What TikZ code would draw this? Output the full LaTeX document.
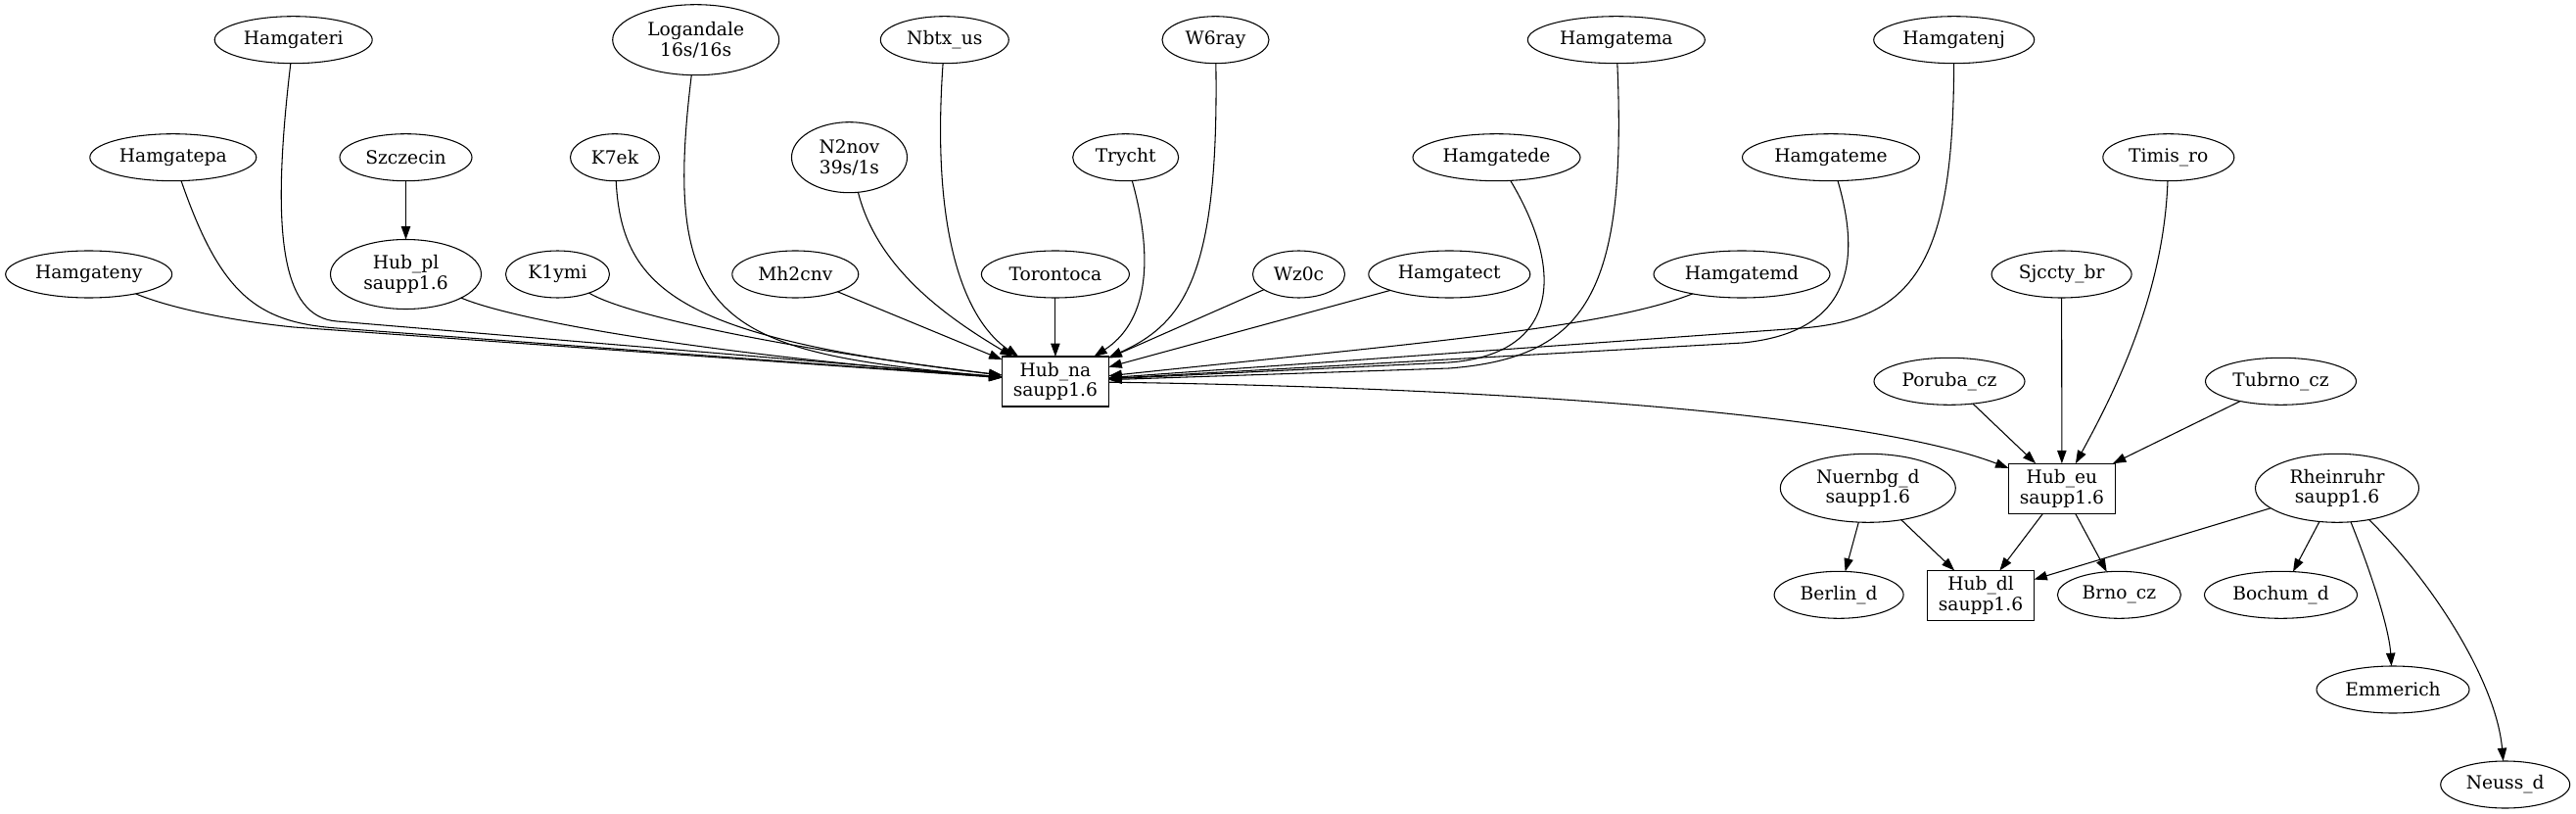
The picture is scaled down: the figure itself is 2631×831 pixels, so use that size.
\documentclass[tikz,border=0pt]{standalone}
\usepackage{fontspec}
\setmainfont{DejaVu Serif}
\usetikzlibrary{shapes.geometric,arrows.meta}
\begin{document}
\begin{tikzpicture}[x=0.75pt,y=-0.75pt, line width=0.8pt,
  every node/.style={font=\fontsize{14}{15.5}\selectfont, align=center},
  ell/.style={draw, ellipse, inner sep=0pt, outer sep=0pt, minimum height=36pt, minimum width=#1},
  hub/.style={draw, rectangle, inner sep=0pt, outer sep=0pt, minimum width=81.75pt, minimum height=38.25pt},
  tall/.style={minimum height=#1},
  edge/.style={draw, -{Triangle[length=10pt,width=7pt]}}]
\useasboundingbox (0,0) rectangle (2631,831);
% row 1
\node[ell=120.75pt] (hamgateri) at (299.7,40.7) {Hamgateri};
\node[ell=127.5pt, tall=54pt] (logandale) at (710.7,40.7) {Logandale\\16s/16s};
\node[ell=98.25pt] (nbtxus) at (964.8,40.7) {Nbtx\_us};
\node[ell=81.75pt] (w6ray) at (1241.5,40.7) {W6ray};
\node[ell=135.75pt] (hamgatema) at (1650.8,40.7) {Hamgatema};
\node[ell=123pt] (hamgatenj) at (1995.7,40.7) {Hamgatenj};
% row 2
\node[ell=127.5pt] (hamgatepa) at (176.8,160.7) {Hamgatepa};
\node[ell=101.25pt] (szczecin) at (414.5,160.7) {Szczecin};
\node[ell=68.25pt] (k7ek) at (628,160.7) {K7ek};
\node[ell=88.5pt, tall=54pt] (n2nov) at (867.5,160.7) {N2nov\\39s/1s};
\node[ell=81pt] (trycht) at (1149.7,160.7) {Trycht};
\node[ell=128.25pt] (hamgatede) at (1528.5,160.7) {Hamgatede};
\node[ell=135.75pt] (hamgateme) at (1870,160.7) {Hamgateme};
\node[ell=100.5pt] (timisro) at (2214.8,160.7) {Timis\_ro};
% row 3
\node[ell=127.5pt] (hamgateny) at (90.7,280) {Hamgateny};
\node[ell=115.5pt, tall=53.25pt] (hubpl) at (414.5,280) {Hub\_pl\\saupp1.6};
\node[ell=79.5pt] (k1ymi) at (569.5,280) {K1ymi};
\node[ell=96.75pt] (mh2cnv) at (812.3,280) {Mh2cnv};
\node[ell=113.25pt] (torontoca) at (1077.9,280) {Torontoca};
\node[ell=70.5pt] (wz0c) at (1326.5,280) {Wz0c};
\node[ell=123.75pt] (hamgatect) at (1480.3,280) {Hamgatect};
\node[ell=135pt] (hamgatemd) at (1779,280) {Hamgatemd};
\node[ell=107.25pt] (sjcctybr) at (2105.6,280) {Sjccty\_br};
% hubs and lower part
\node[hub] (hubna) at (1077.9,389.5) {Hub\_na\\saupp1.6};
\node[ell=115.5pt] (porubacz) at (1991,389.3) {Poruba\_cz};
\node[ell=115.5pt] (tubrnocz) at (2329.5,389.3) {Tubrno\_cz};
\node[hub] (hubeu) at (2105.9,498.7) {Hub\_eu\\saupp1.6};
\node[ell=134.25pt, tall=52.5pt] (nuernbgd) at (1907.8,498.3) {Nuernbg\_d\\saupp1.6};
\node[ell=125.25pt, tall=52.5pt] (rheinruhr) at (2387,498.3) {Rheinruhr\\saupp1.6};
\node[ell=99pt] (berlind) at (1878.1,607.3) {Berlin\_d};
\node[hub] (hubdl) at (2023,608) {Hub\_dl\\saupp1.6};
\node[ell=94.5pt] (brnocz) at (2164.4,607.3) {Brno\_cz};
\node[ell=117pt] (bochumd) at (2329.5,607.3) {Bochum\_d};
\node[ell=117pt] (emmerich) at (2444,704) {Emmerich};
\node[ell=99pt] (neussd) at (2558.7,801) {Neuss\_d};
% edges into Hub_na
\draw[edge] (hamgateny) .. controls (175,315) and (240,328) .. (300,334) -- (hubna);
\draw[edge] (hamgatepa) .. controls (225,300) and (262,329) .. (344,335) -- (hubna);
\draw[edge] (hamgateri) .. controls (276,240) and (288,323.6) .. (344,328) -- (hubna);
\draw[edge] (hubpl) .. controls (520,325) and (700,360) .. (hubna);
\draw[edge] (k1ymi) .. controls (640,322) and (800,356) .. (hubna);
\draw[edge] (k7ek) .. controls (635,300) and (700,345) .. (hubna);
\draw[edge] (logandale) .. controls (675,330) and (735,360) .. (hubna);
\draw[edge] (mh2cnv) -- (hubna);
\draw[edge] (n2nov) .. controls (895,270) and (960,320) .. (hubna);
\draw[edge] (nbtxus) .. controls (950,250) and (990,330) .. (hubna);
\draw[edge] (torontoca) -- (hubna);
\draw[edge] (trycht) .. controls (1180,270) and (1170,330) .. (hubna);
\draw[edge] (w6ray) .. controls (1245,280) and (1210,330) .. (hubna);
\draw[edge] (wz0c) -- (hubna);
\draw[edge] (hamgatect) -- (hubna);
\draw[edge] (hamgatemd) .. controls (1640,335) and (1450,350) .. (hubna);
\draw[edge] (hamgatede) .. controls (1600,280) and (1590,362) .. (1480,370) -- (hubna);
\draw[edge] (hamgatema) .. controls (1662,300) and (1620,365) .. (1480,376) -- (hubna);
\draw[edge] (hamgateme) .. controls (1905,280) and (1880,340) .. (1780,350) -- (hubna);
\draw[edge] (hamgatenj) .. controls (1995,260) and (1960,326) .. (1840,335) -- (hubna);
\draw[edge] (szczecin) -- (hubpl);
% Hub_eu
\draw[edge] (hubna) .. controls (1500,395) and (1900,420) .. (hubeu);
\draw[edge] (sjcctybr) -- (hubeu);
\draw[edge] (timisro) .. controls (2210,300) and (2160,400) .. (hubeu);
\draw[edge] (porubacz) -- (hubeu);
\draw[edge] (tubrnocz) -- (hubeu);
\draw[edge] (hubeu) -- (hubdl);
\draw[edge] (hubeu) -- (brnocz);
\draw[edge] (nuernbgd) -- (berlind);
\draw[edge] (nuernbgd) -- (hubdl);
\draw[edge] (rheinruhr) -- (hubdl);
\draw[edge] (rheinruhr) -- (bochumd);
\draw[edge] (rheinruhr) .. controls (2420,580) and (2440,640) .. (emmerich);
\draw[edge] (rheinruhr) .. controls (2490,600) and (2550,700) .. (neussd);
\end{tikzpicture}
\end{document}
